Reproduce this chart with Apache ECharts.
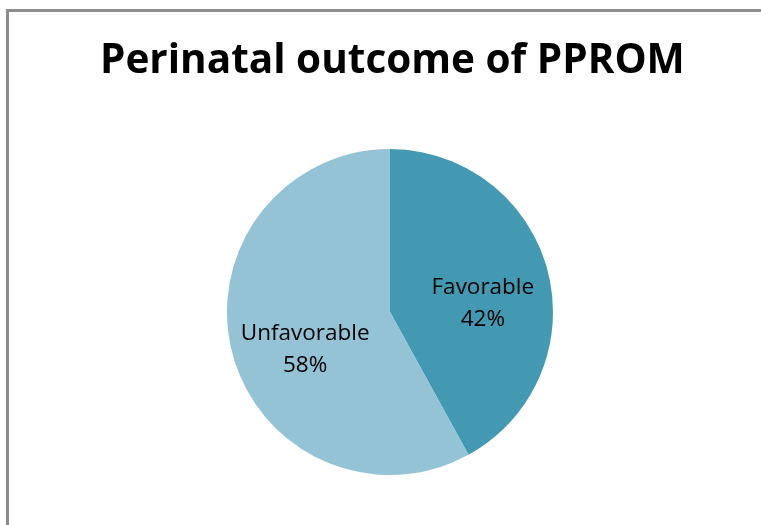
<!DOCTYPE html>
<html>
<head>
<meta charset="utf-8">
<script src="https://cdn.jsdelivr.net/npm/echarts@6/dist/echarts.min.js"></script>
<style>
html,body{margin:0;padding:0;background:#fff;}
#chart{width:761px;height:525px;}
</style>
</head>
<body>
<div id="chart"></div>
<script>
const categories = ['Favorable', 'Unfavorable'];
const values = [42, 58];
const colors = ['#4399B1', '#93C3D5'];
const title = 'Perinatal outcome of PPROM';

const chart = echarts.init(document.getElementById('chart'), null, {renderer: 'canvas'});
const labelOffsets = [[11, 13], [-3, 17]];
chart.setOption({
  animation: false,
  backgroundColor: '#ffffff',
  title: {
    text: title,
    left: 100,
    top: 41,
    padding: 0,
    textStyle: {fontFamily: 'Open Sans', fontWeight: 'bold', fontSize: 40.5, color: '#000'}
  },
  graphic: [
    {type: 'line', shape: {x1: 7.5, y1: 9, x2: 7.5, y2: 525}, style: {stroke: '#8c8c8c', lineWidth: 3}},
    {type: 'line', shape: {x1: 6, y1: 10.5, x2: 761, y2: 10.5}, style: {stroke: '#8c8c8c', lineWidth: 3}}
  ],
  series: [{
    type: 'pie',
    center: [390, 312],
    radius: [0, 163],
    startAngle: 90,
    clockwise: true,
    label: {
      show: true,
      position: 'inside',
      formatter: p => p.name + '\n' + p.value + '%',
      fontFamily: 'Open Sans',
      fontSize: 22.5,
      lineHeight: 32,
      color: '#000'
    },
    labelLine: {show: false},
    itemStyle: {borderWidth: 0},
    emphasis: {disabled: true},
    data: categories.map((c, i) => ({
      name: c, value: values[i],
      itemStyle: {color: colors[i]},
      label: {offset: labelOffsets[i]}
    }))
  }]
});
</script>
</body>
</html>
